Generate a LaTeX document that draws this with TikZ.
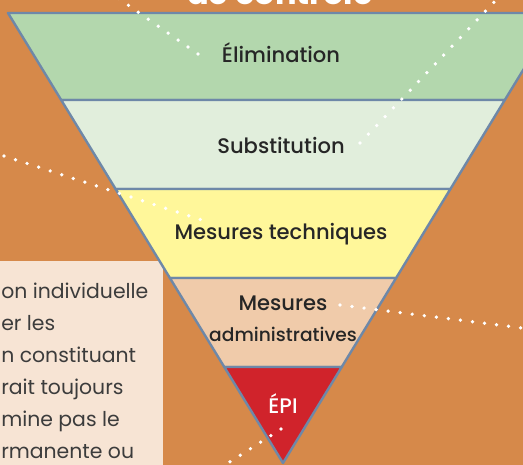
\documentclass[tikz,border=0pt]{standalone}
\usepackage{xcolor}
\usepackage{fontspec}
\setmainfont{Poppins}
\newfontfamily\bandfont{Poppins Medium}

\definecolor{fondorange}{HTML}{D6894A}
\definecolor{bordbleu}{HTML}{6E88A8}
\definecolor{vertelim}{HTML}{B3D7AD}
\definecolor{vertsubst}{HTML}{E1EEDC}
\definecolor{jaunetech}{HTML}{FFF79A}
\definecolor{peachadmin}{HTML}{F0CBAA}
\definecolor{rougeepi}{HTML}{D0232B}
\definecolor{boitepeach}{HTML}{F7E4D4}
\definecolor{texte}{HTML}{262626}

\tikzset{
  band/.style={draw=bordbleu, line width=1.8pt, line join=round},
  bandlabel/.style={font={\bandfont\fontsize{15.8}{23.25}\selectfont}, text=texte, inner sep=0pt, align=center},
  dotline/.style={draw=white, line width=2.8pt, line cap=round, dash pattern=on 0pt off 9.1pt}
}

\begin{document}
\begin{tikzpicture}[x=0.75pt,y=0.75pt,yscale=-1,xscale=1]
\useasboundingbox (0,0) rectangle (523,464);
\clip (0,0) rectangle (523,464);

%Shape: Background
\fill [fondorange] (-5,-5) rectangle (530,470);
%Shape: Rectangle [side box]
\fill [boitepeach] (-5,261) -- (163,261) -- (163,470) -- (-5,470) -- cycle ;

%Shape: Band [elimination]
\draw [band, fill=vertelim] (8,13) -- (558,13) -- (504.8,100) -- (61.2,100) -- cycle ;
%Shape: Band [substitution]
\draw [band, fill=vertsubst] (61.2,100) -- (504.8,100) -- (450.4,189) -- (115.6,189) -- cycle ;
%Shape: Band [techniques]
\draw [band, fill=jaunetech] (115.6,189) -- (450.4,189) -- (396.1,278) -- (169.9,278) -- cycle ;
%Shape: Band [administratives]
\draw [band, fill=peachadmin] (169.9,278) -- (396.1,278) -- (341.7,367) -- (224.3,367) -- cycle ;
%Shape: Triangle [epi]
\draw [band, fill=rougeepi] (224.3,367) -- (341.7,367) -- (283,463) -- cycle ;

%Dotted Lines
\coordinate (d1a) at (118,-2) ; \coordinate (d1b) at (198,54) ;
\coordinate (d2a) at (497,-1) ; \coordinate (d2b) at (360,143) ;
\coordinate (d3a) at (4,156) ; \coordinate (d3b) at (205,221) ;
\coordinate (d4a) at (340,305) ; \coordinate (d4b) at (530,329) ;
\coordinate (d5a) at (281,429) ; \coordinate (d5b) at (222,467) ;
\draw [dotline] (d1b) -- (d1a) ;
\draw [dotline] (d2b) -- (d2a) ;
\draw [dotline] (d3a) -- (d3b) ;
\draw [dotline] (d4a) -- (d4b) ;
\draw [dotline] (d5a) -- (d5b) ;

% Text Node
\node (titre) [anchor=base, text=white, inner sep=0pt, font={\bfseries\fontsize{24}{28}\selectfont}] at (280,4) {de contrôle};
% Text Node
\node (elim) [bandlabel, anchor=base] at (281,62) {Élimination};
% Text Node
\node (subst) [bandlabel, anchor=base] at (281,153) {Substitution};
% Text Node
\node (tech) [bandlabel, anchor=base] at (281,239) {Mesures techniques};
% Text Node
\node (admin) [bandlabel, anchor=base] at (283,341) {Mesures\\\fontsize{14}{23.25}\selectfont administratives};
% Text Node
\node (epi) [bandlabel, anchor=base, text=white] at (283,413) {ÉPI};
% Text Node
\node (boite) [anchor=base west, inner sep=0pt, text=texte!90, align=left, font={\fontsize{15.3}{24}\selectfont}] at (1,458) {on individuelle\\er les\\n constituant\\rait toujours\\mine pas le\\rmanente ou};

\end{tikzpicture}
\end{document}
